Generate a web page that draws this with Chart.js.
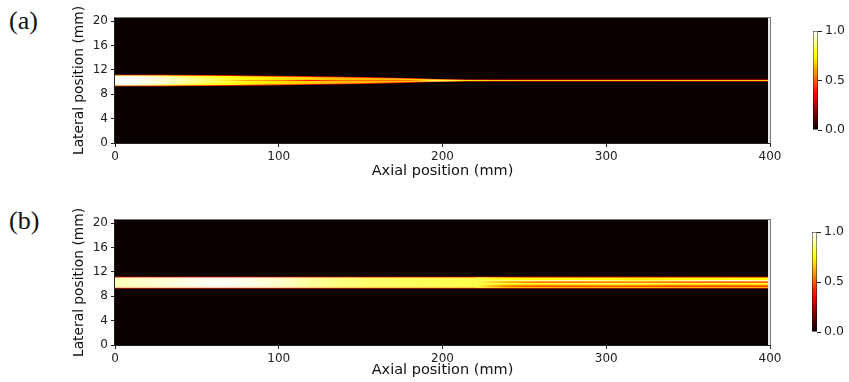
<!DOCTYPE html>
<html>
<head>
<meta charset="utf-8">
<script src="https://cdn.jsdelivr.net/npm/chart.js@4.4.0/dist/chart.umd.min.js"></script>
<style>
  html, body { margin: 0; padding: 0; background: #fff; }
  body { width: 849px; height: 382px; position: relative; overflow: hidden; }
  .box { position: absolute; }
  .tag { position: absolute; font-family: "Liberation Serif", serif; font-size: 26px; color: #111; line-height: 1; }
</style>
</head>
<body>
<div class="tag" style="left:9px; top:8px">(a)</div>
<div class="tag" style="left:9px; top:208px">(b)</div>
<div class="box" style="left:0; top:0"><canvas id="mapA" width="800" height="200"></canvas></div>
<div class="box" style="left:790px; top:0"><canvas id="barA" width="59" height="200"></canvas></div>
<div class="box" style="left:0; top:200px"><canvas id="mapB" width="800" height="182"></canvas></div>
<div class="box" style="left:790px; top:200px"><canvas id="barB" width="59" height="182"></canvas></div>
<script>
// axis ticks
const axialTicks = [0, 100, 200, 300, 400];
const lateralTicks = [0, 4, 8, 12, 16, 20];
const cbarTicks = [0, 0.5, 1.0];

// (a) beam: lateral edges (mm) and normalised intensity
const axialA = [0, 10, 30, 50, 70, 90, 110, 130, 150, 170, 185, 195, 205, 215, 230, 260, 300, 340, 380, 400];
const haloLoA = [9.3, 9.3, 9.32, 9.35, 9.4, 9.45, 9.52, 9.6, 9.68, 9.8, 9.92, 10.02, 10.06, 10.08, 10.09, 10.1, 10.1, 10.1, 10.1, 10.1];
const haloHiA = [11.2, 11.2, 11.18, 11.15, 11.1, 11.04, 10.98, 10.92, 10.84, 10.72, 10.6, 10.5, 10.45, 10.42, 10.41, 10.4, 10.4, 10.4, 10.4, 10.4];
const haloIA = [0.5, 0.48, 0.45, 0.42, 0.42, 0.42, 0.4, 0.4, 0.4, 0.4, 0.42, 0.45, 0.45, 0.42, 0.4, 0.38, 0.38, 0.38, 0.38, 0.38];
const coreLoA = [9.42, 9.42, 9.45, 9.48, 9.53, 9.58, 9.64, 9.72, 9.8, 9.92, 10.03, 10.1, 10.13, 10.15, 10.16, 10.17, 10.17, 10.17, 10.17, 10.17];
const coreHiA = [11.08, 11.08, 11.05, 11.02, 10.97, 10.92, 10.86, 10.8, 10.72, 10.6, 10.48, 10.4, 10.37, 10.35, 10.34, 10.33, 10.33, 10.33, 10.33, 10.33];
const coreIA = [0.92, 0.9, 0.84, 0.8, 0.76, 0.72, 0.68, 0.66, 0.64, 0.64, 0.68, 0.82, 0.8, 0.72, 0.68, 0.66, 0.66, 0.67, 0.67, 0.67];
const innerAxA = [0, 10, 30, 50, 70, 90];
const innerLoA = [9.55, 9.57, 9.65, 9.75, 9.9, 10.1];
const innerHiA = [10.95, 10.93, 10.85, 10.75, 10.6, 10.4];
const innerIA = [1.0, 1.0, 0.95, 0.88, 0.8, 0.74];
const seamAxA = [60, 80, 100, 120, 140, 160, 180, 192];
const seamLoA = [10.25, 10.21, 10.19, 10.18, 10.19, 10.2, 10.22, 10.25];
const seamHiA = [10.25, 10.29, 10.31, 10.32, 10.31, 10.3, 10.28, 10.25];
const seamIA = [0.6, 0.45, 0.42, 0.4, 0.4, 0.4, 0.42, 0.55];

// (b)
const axialB = [0, 20, 40, 60, 80, 100, 120, 140, 160, 180, 200, 220, 240, 400];
const haloLoB = [9.28, 9.28, 9.28, 9.28, 9.28, 9.28, 9.28, 9.28, 9.28, 9.28, 9.28, 9.28, 9.28, 9.28];
const haloHiB = [11.18, 11.18, 11.18, 11.18, 11.18, 11.18, 11.18, 11.18, 11.18, 11.18, 11.18, 11.18, 11.18, 11.18];
const haloIB = [0.42, 0.42, 0.42, 0.42, 0.42, 0.42, 0.42, 0.42, 0.42, 0.42, 0.42, 0.42, 0.42, 0.42];
const coreLoB = [9.4, 9.4, 9.4, 9.4, 9.4, 9.4, 9.4, 9.4, 9.4, 9.4, 9.4, 9.4, 9.4, 9.4];
const coreHiB = [11.06, 11.06, 11.06, 11.06, 11.06, 11.06, 11.06, 11.06, 11.06, 11.06, 11.06, 11.06, 11.06, 11.06];
const coreIB = [0.93, 0.95, 0.97, 0.99, 0.98, 0.95, 0.9, 0.87, 0.85, 0.84, 0.83, 0.82, 0.75, 0.7];
const stripeAxB = [220, 240, 260, 280, 300, 320, 340, 360, 380, 400];
const stripeEdgesB = [9.4, 9.51, 9.79, 10.0, 10.21, 10.44, 10.66, 10.98, 11.06];
const stripeIB = [
  [0.82, 0.66, 0.64, 0.64, 0.65, 0.65, 0.64, 0.64, 0.64, 0.64],
  [0.82, 0.52, 0.47, 0.47, 0.47, 0.47, 0.45, 0.45, 0.45, 0.45],
  [0.82, 0.7, 0.68, 0.7, 0.72, 0.72, 0.68, 0.68, 0.68, 0.68],
  [0.82, 0.82, 0.8, 0.84, 0.86, 0.86, 0.82, 0.82, 0.8, 0.8],
  [0.82, 0.58, 0.48, 0.48, 0.5, 0.52, 0.48, 0.45, 0.45, 0.45],
  [0.82, 0.86, 0.9, 0.93, 0.88, 0.84, 0.88, 0.94, 0.97, 0.92],
  [0.82, 0.76, 0.74, 0.76, 0.74, 0.72, 0.74, 0.76, 0.74, 0.74],
  [0.82, 0.58, 0.52, 0.52, 0.52, 0.52, 0.52, 0.52, 0.52, 0.52]
];

// matplotlib "hot" colormap
function hot(v) {
  v = Math.max(0, Math.min(1, v));
  const r = Math.min(1, 0.0416 + v / 0.365079 * (1 - 0.0416));
  const g = Math.max(0, Math.min(1, (v - 0.365079) / (0.746032 - 0.365079)));
  const b = Math.max(0, Math.min(1, (v - 0.746032) / (1 - 0.746032)));
  return 'rgb(' + Math.round(r * 255) + ',' + Math.round(g * 255) + ',' + Math.round(b * 255) + ')';
}

function bandSets(axial, lo, hi, level) {
  const fillColor = (c) => {
    const chart = c.chart, area = chart.chartArea;
    if (!area) return hot(level[0]);
    const xs = chart.scales.x;
    const g = chart.ctx.createLinearGradient(area.left, 0, area.right, 0);
    axial.forEach((a, i) => {
      const t = (xs.getPixelForValue(a) - area.left) / (area.right - area.left);
      g.addColorStop(Math.min(1, Math.max(0, t)), hot(level[i]));
    });
    return g;
  };
  const base = { borderColor: 'rgba(0,0,0,0)', borderWidth: 0, pointRadius: 0, pointHoverRadius: 0, tension: 0 };
  return [
    Object.assign({}, base, { data: axial.map((x, i) => ({ x: x, y: lo[i] })), fill: false }),
    Object.assign({}, base, { data: axial.map((x, i) => ({ x: x, y: hi[i] })), fill: '-1', backgroundColor: fillColor })
  ];
}

const tickFont = { family: 'DejaVu Sans', size: 12 };

const frame = {
  id: 'frame',
  beforeDraw(chart) {
    const { left, right, top, bottom } = chart.chartArea;
    chart.ctx.save();
    chart.ctx.fillStyle = hot(0);
    chart.ctx.fillRect(left, top, right - left, bottom - top);
    chart.ctx.restore();
  },
  afterDraw(chart) {
    const { left, right, top, bottom } = chart.chartArea;
    const ctx = chart.ctx;
    ctx.save();
    ctx.fillStyle = '#e8e8e8';
    ctx.fillRect(right - 2, top, 2, bottom - top);
    ctx.strokeStyle = '#777';
    ctx.lineWidth = 1;
    ctx.strokeRect(left - 0.5, top - 0.5, right - left + 1, bottom - top + 1);
    ctx.strokeStyle = '#222';
    ctx.beginPath();
    ctx.moveTo(left - 0.5, top - 0.5);
    ctx.lineTo(left - 0.5, bottom + 0.5);
    ctx.lineTo(right + 0.5, bottom + 0.5);
    ctx.stroke();
    ctx.restore();
  }
};

function mapChart(id, bands, padTop, axisH, titlePad) {
  const datasets = [];
  bands.forEach(b => datasets.push(...bandSets(b[0], b[1], b[2], b[3])));
  datasets.forEach((d, i) => { d.order = 1000 - i; });
  return new Chart(document.getElementById(id), {
    type: 'line',
    data: { datasets: datasets },
    options: {
      responsive: false,
      animation: false,
      devicePixelRatio: 1,
      events: [],
      layout: { padding: { left: 0, top: padTop, right: 30, bottom: 0 } },
      plugins: { legend: { display: false }, tooltip: { enabled: false } },
      scales: {
        x: {
          type: 'linear', min: 0, max: 400,
          afterBuildTicks: s => { s.ticks = axialTicks.map(v => ({ value: v })); },
          afterFit: s => { s.height = axisH; },
          grid: { display: true, drawOnChartArea: false, tickLength: 4, color: '#222' },
          border: { display: false },
          ticks: { font: tickFont, color: '#222', padding: 3, maxRotation: 0 },
          title: { display: true, text: 'Axial position (mm)', font: { family: 'DejaVu Sans', size: 14.5 }, color: '#111', padding: { top: 0, bottom: titlePad } }
        },
        y: {
          type: 'linear', min: 0, max: 20.5,
          afterBuildTicks: s => { s.ticks = lateralTicks.map(v => ({ value: v })); },
          afterFit: s => { s.width = 115; },
          grid: { display: true, drawOnChartArea: false, tickLength: 4, color: '#222' },
          border: { display: false },
          ticks: { font: tickFont, color: '#222', padding: 3 },
          title: { display: true, text: 'Lateral position (mm)', font: { family: 'DejaVu Sans', size: 13.8 }, color: '#111', padding: { top: 71, bottom: 0 } }
        }
      }
    },
    plugins: [frame]
  });
}

function cbarChart(id, padLeft, padTop, padBottom) {
  return new Chart(document.getElementById(id), {
    type: 'bar',
    data: {
      labels: [''],
      datasets: [{
        data: [[0, 1]],
        backgroundColor: (c) => {
          const area = c.chart.chartArea;
          if (!area) return hot(0.5);
          const g = c.chart.ctx.createLinearGradient(0, area.bottom, 0, area.top);
          for (let i = 0; i <= 20; i++) g.addColorStop(i / 20, hot(i / 20));
          return g;
        },
        borderColor: '#111',
        borderWidth: 0.8,
        borderSkipped: false,
        barPercentage: 1,
        categoryPercentage: 1
      }]
    },
    options: {
      responsive: false,
      animation: false,
      devicePixelRatio: 1,
      events: [],
      layout: { padding: { left: padLeft, top: padTop, right: 0, bottom: padBottom } },
      plugins: { legend: { display: false }, tooltip: { enabled: false } },
      scales: {
        x: { display: false },
        y: {
          position: 'right', min: 0, max: 1,
          afterBuildTicks: s => { s.ticks = cbarTicks.map(v => ({ value: v })); },
          afterFit: s => { s.width = 59 - padLeft - 5; },
          grid: { display: true, drawOnChartArea: false, tickLength: 4, color: '#222' },
          border: { display: false },
          ticks: { font: { family: 'DejaVu Sans', size: 12.5 }, color: '#222', padding: 3, callback: v => v.toFixed(1) }
        }
      }
    }
  });
}

mapChart('mapA', [
  [axialA, haloLoA, haloHiA, haloIA],
  [axialA, coreLoA, coreHiA, coreIA],
  [innerAxA, innerLoA, innerHiA, innerIA],
  [seamAxA, seamLoA, seamHiA, seamIA]
], 18, 57, 19.6);

const bandsB = [
  [axialB, haloLoB, haloHiB, haloIB],
  [axialB, coreLoB, coreHiB, coreIB]
];
stripeIB.forEach((lv, k) => {
  bandsB.push([stripeAxB, stripeAxB.map(() => stripeEdgesB[k]), stripeAxB.map(() => stripeEdgesB[k + 1]), lv]);
});
mapChart('mapB', bandsB, 20, 37, 2.6);

cbarChart('barA', 23, 31, 70);
cbarChart('barB', 22, 32, 50);
</script>
</body>
</html>
